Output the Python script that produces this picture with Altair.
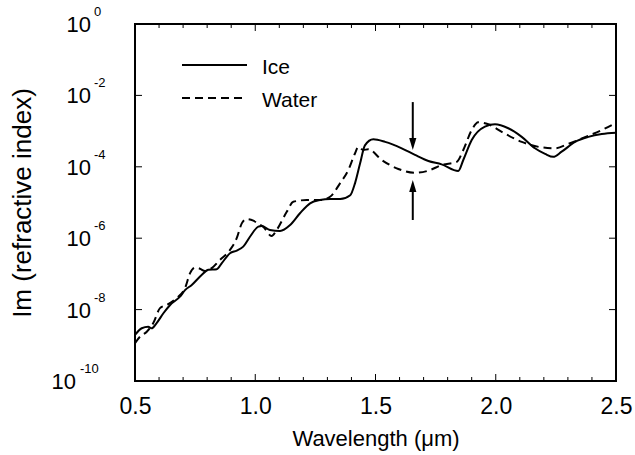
import altair as alt
import pandas as pd

# ---------------- data ----------------
ice_wl = [0.500, 0.528, 0.555, 0.569, 0.590, 0.618, 0.646, 0.687, 0.708, 0.736,
          0.777, 0.805, 0.840, 0.861, 0.895, 0.923, 0.950, 0.978, 1.013, 1.027,
          1.061, 1.103, 1.145, 1.186, 1.228, 1.269, 1.311, 1.353, 1.395, 1.415,
          1.436, 1.456, 1.491, 1.540, 1.609, 1.664, 1.720, 1.775, 1.844, 1.865,
          1.900, 1.955, 1.997, 2.052, 2.108, 2.163, 2.205, 2.239, 2.274, 2.330,
          2.385, 2.441, 2.500]
ice_k = [1.95e-9, 3.0e-9, 3.3e-9, 3.0e-9, 4.2e-9, 7.9e-9, 1.35e-8, 2.3e-8, 3.5e-8, 4.9e-8,
         9.3e-8, 1.3e-7, 1.35e-7, 2.0e-7, 3.8e-7, 4.5e-7, 5.8e-7, 1.1e-6, 2.1e-6, 2.2e-6,
         1.7e-6, 1.6e-6, 2.35e-6, 5.0e-6, 9.5e-6, 1.17e-5, 1.25e-5, 1.25e-5, 1.6e-5, 3.5e-5,
         1.25e-4, 4.0e-4, 5.9e-4, 5.0e-4, 3.3e-4, 2.15e-4, 1.45e-4, 1.17e-4, 7.6e-5, 1.55e-4,
         5.6e-4, 1.33e-3, 1.55e-3, 1.2e-3, 6.9e-4, 3.3e-4, 2.3e-4, 1.9e-4, 2.65e-4, 5.0e-4,
         6.9e-4, 8.3e-4, 9.0e-4]

water_wl = [0.500, 0.521, 0.549, 0.576, 0.604, 0.632, 0.673, 0.708, 0.729, 0.749,
            0.770, 0.791, 0.819, 0.853, 0.895, 0.923, 0.944, 0.964, 0.992, 1.013,
            1.033, 1.068, 1.089, 1.131, 1.158, 1.214, 1.269, 1.311, 1.353, 1.387,
            1.415, 1.428, 1.449, 1.470, 1.526, 1.595, 1.664, 1.720, 1.775, 1.838,
            1.865, 1.900, 1.927, 1.969, 2.025, 2.108, 2.191, 2.246, 2.302, 2.371,
            2.441, 2.500]
water_k = [1.15e-9, 1.75e-9, 2.4e-9, 4.2e-9, 1.1e-8, 1.35e-8, 2.1e-8, 4.0e-8, 1.05e-7, 1.5e-7,
           1.4e-7, 1.2e-7, 1.45e-7, 2.45e-7, 4.7e-7, 1.0e-6, 2.6e-6, 3.45e-6, 3.1e-6, 2.5e-6,
           2.1e-6, 1.15e-6, 1.7e-6, 5.5e-6, 1.05e-5, 1.17e-5, 1.17e-5, 1.45e-5, 3.5e-5, 8.1e-5,
           2.4e-4, 3.6e-4, 2.95e-4, 3.1e-4, 1.55e-4, 8.7e-5, 6.8e-5, 7.8e-5, 1.12e-4, 1.38e-4,
           2.95e-4, 1.07e-3, 1.78e-3, 1.55e-3, 9.5e-4, 5.0e-4, 3.5e-4, 3.3e-4, 4.4e-4, 6.8e-4,
           1.07e-3, 1.7e-3]

x_major = [0.5, 1.0, 1.5, 2.0, 2.5]
x_minor = [0.6, 0.7, 0.8, 0.9, 1.1, 1.2, 1.3, 1.4, 1.6, 1.7, 1.8, 1.9, 2.1, 2.2, 2.3, 2.4]
y_major = [1e0, 1e-2, 1e-4, 1e-6, 1e-8, 1e-10]
y_exp_labels = ["0", "-2", "-4", "-6", "-8", "-10"]

arrow_x = 1.655
arrow_down = [6.5e-3, 5.0e-4, 2.95e-4]   # tail, shaft end, tip
arrow_up = [3.24e-6, 2.9e-5, 4.27e-5]    # tail, shaft end, tip

legend_names = ["Ice", "Water"]

# ---------------- layout ----------------
W, H = 481, 357
FONT = "Liberation Sans"

ice_df = pd.DataFrame({"wl": ice_wl, "k": ice_k})
water_df = pd.DataFrame({"wl": water_wl, "k": water_k})

xscale = alt.Scale(domain=[0.5, 2.5], nice=False, zero=False)
yscale = alt.Scale(type="log", domain=[1e-10, 1], nice=False)

xaxis = alt.Axis(values=x_major, format=".1f", ticks=False, tickSize=0, domain=False, grid=False,
                 labelFont=FONT, labelFontSize=23, labelColor="black", labelBaseline="alphabetic",
                 labelPadding=32, labelFlush=False, labelOverlap=False,
                 title="Wavelength (μm)", titleFont=FONT, titleFontSize=22, titleFontWeight="normal",
                 titleColor="black", titleX=W / 2, titleY=64, titleBaseline="alphabetic",
                 titleAlign="center")
yaxis = alt.Axis(labels=False, ticks=False, domain=False, grid=False,
                 title="Im (refractive index)", titleFont=FONT, titleFontSize=26,
                 titleFontWeight="normal", titleColor="black", titleX=-113, titleY=H / 2,
                 titleAngle=270, titleBaseline="middle", titleAlign="center")

ice = alt.Chart(ice_df).mark_line(color="black", strokeWidth=2, interpolate="monotone", clip=True).encode(
    x=alt.X("wl:Q", scale=xscale, axis=xaxis),
    y=alt.Y("k:Q", scale=yscale, axis=yaxis),
)
water = alt.Chart(water_df).mark_line(color="black", strokeWidth=2, strokeDash=[8, 5],
                                      interpolate="monotone", clip=True).encode(
    x=alt.X("wl:Q", scale=xscale),
    y=alt.Y("k:Q", scale=yscale),
)

# ---------------- inward ticks ----------------
xmaj = pd.DataFrame({"t": x_major})
xmin = pd.DataFrame({"t": x_minor})
ymaj = pd.DataFrame({"t": y_major})

def xticks(df, length):
    bottom = alt.Chart(df).mark_rule(color="black", strokeWidth=1).encode(
        x=alt.X("t:Q", scale=xscale), y=alt.value(H), y2=alt.value(H - length))
    top = alt.Chart(df).mark_rule(color="black", strokeWidth=1).encode(
        x=alt.X("t:Q", scale=xscale), y=alt.value(0), y2=alt.value(length))
    return [bottom, top]

yt_left = alt.Chart(ymaj).mark_rule(color="black", strokeWidth=1).encode(
    y=alt.Y("t:Q", scale=yscale), x=alt.value(0), x2=alt.value(7))
yt_right = alt.Chart(ymaj).mark_rule(color="black", strokeWidth=1).encode(
    y=alt.Y("t:Q", scale=yscale), x=alt.value(W), x2=alt.value(W - 7))

# ---------------- y tick labels (10 with superscript exponent) ----------------
ylab = pd.DataFrame({"t": y_major, "e": y_exp_labels})
ylab_short = ylab[ylab["e"].str.len() <= 2]
ylab_long = ylab[ylab["e"].str.len() > 2]

def ylabels(df, base_x, exp_x):
    base = alt.Chart(df).mark_text(font=FONT, fontSize=22, align="right", baseline="alphabetic",
                                   dy=8, color="black").encode(
        y=alt.Y("t:Q", scale=yscale), x=alt.value(base_x), text=alt.value("10"))
    exp = alt.Chart(df).mark_text(font=FONT, fontSize=13, align="left", baseline="alphabetic",
                                  dy=-8, color="black").encode(
        y=alt.Y("t:Q", scale=yscale), x=alt.value(exp_x), text="e:N")
    return [base, exp]

# ---------------- legend ----------------
leg_ice_line = alt.Chart(pd.DataFrame({"n": [legend_names[0]]})).mark_rule(
    color="black", strokeWidth=2).encode(x=alt.value(47), x2=alt.value(112), y=alt.value(41))
leg_water_line = alt.Chart(pd.DataFrame({"n": [legend_names[1]]})).mark_rule(
    color="black", strokeWidth=2, strokeDash=[8, 5]).encode(x=alt.value(47), x2=alt.value(112), y=alt.value(74))
leg_ice_text = alt.Chart(pd.DataFrame({"n": [legend_names[0]]})).mark_text(
    font=FONT, fontSize=21, align="left", baseline="alphabetic", color="black").encode(
    x=alt.value(127), y=alt.value(50), text="n:N")
leg_water_text = alt.Chart(pd.DataFrame({"n": [legend_names[1]]})).mark_text(
    font=FONT, fontSize=21, align="left", baseline="alphabetic", color="black").encode(
    x=alt.value(127), y=alt.value(83), text="n:N")

# ---------------- arrows ----------------
down_df = pd.DataFrame({"x": [arrow_x], "y1": [arrow_down[0]], "y2": [arrow_down[1]], "tip": [arrow_down[2]]})
up_df = pd.DataFrame({"x": [arrow_x], "y1": [arrow_up[0]], "y2": [arrow_up[1]], "tip": [arrow_up[2]]})

def arrow(df, path):
    shaft = alt.Chart(df).mark_rule(color="black", strokeWidth=2).encode(
        x=alt.X("x:Q", scale=xscale), y=alt.Y("y1:Q", scale=yscale), y2="y2:Q")
    head = alt.Chart(df).mark_point(shape=path, filled=True, size=576, color="black", opacity=1).encode(
        x=alt.X("x:Q", scale=xscale), y=alt.Y("tip:Q", scale=yscale))
    return [shaft, head]

layers = [ice, water]
layers += xticks(xmaj, 7) + xticks(xmin, 4)
layers += [yt_left, yt_right]
layers += ylabels(ylab_short, -44, -41) + ylabels(ylab_long, -59, -55)
layers += [leg_ice_line, leg_water_line, leg_ice_text, leg_water_text]
layers += arrow(down_df, "M -0.3 -1 L 0.3 -1 L 0 0 Z") + arrow(up_df, "M -0.3 1 L 0.3 1 L 0 0 Z")

chart = alt.layer(*layers).properties(
    width=W, height=H,
    padding={"left": 135, "top": 24, "right": 19, "bottom": 74},
    autosize=alt.AutoSizeParams(type="none"),
    background="white",
).configure_view(stroke="black", strokeWidth=2)

chart.save("out.html", embed_options={"renderer": "svg", "actions": False})
